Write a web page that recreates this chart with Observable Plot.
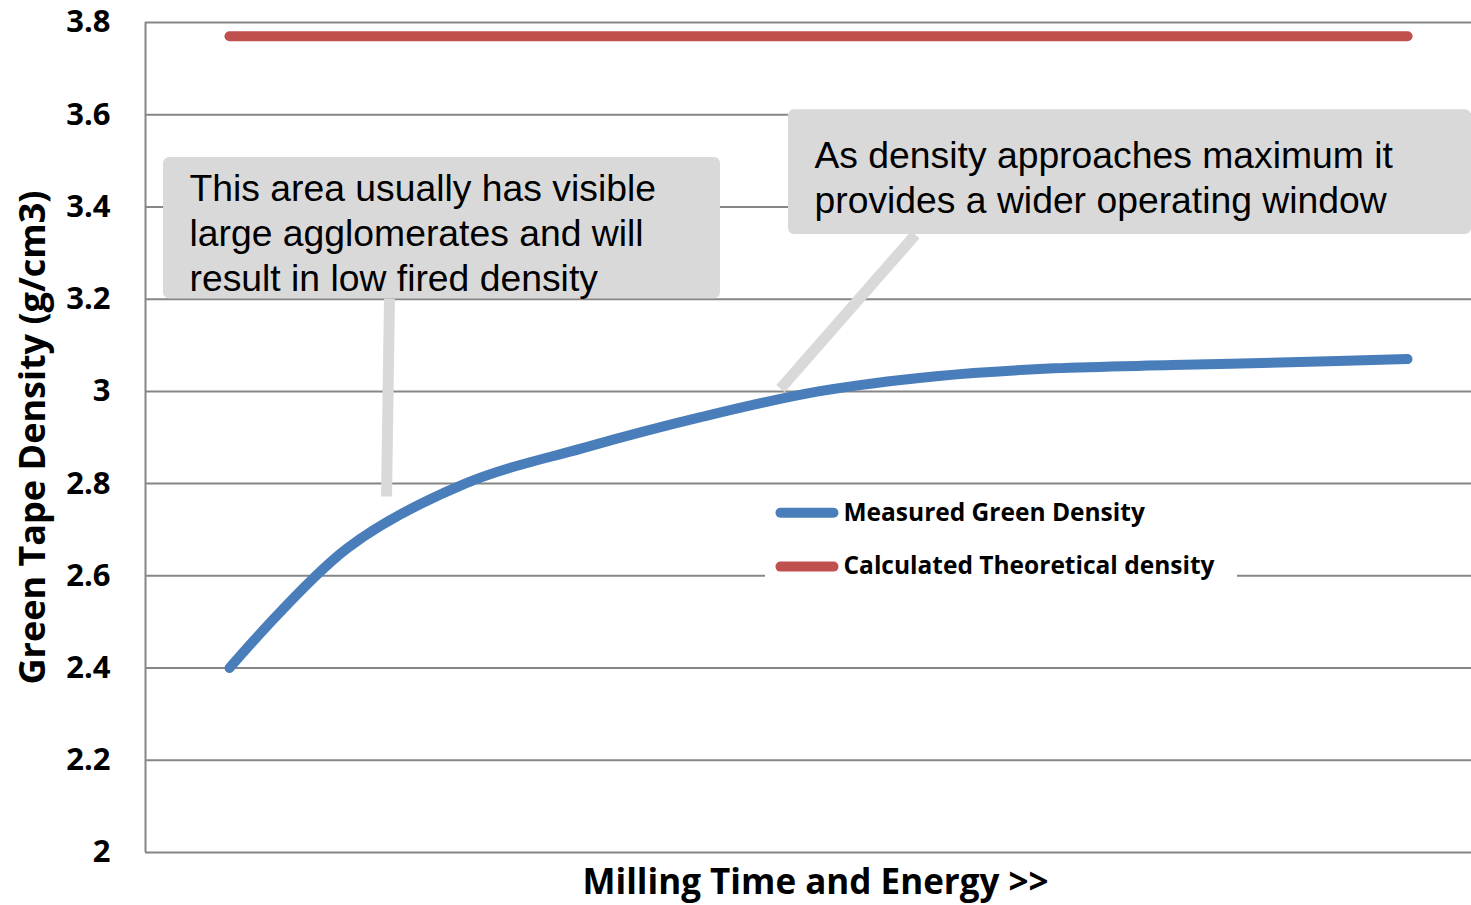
<!DOCTYPE html>
<html><head><meta charset="utf-8">
<script src="https://cdn.jsdelivr.net/npm/d3@7"></script>
<script src="https://cdn.jsdelivr.net/npm/@observablehq/plot@0.6"></script>
<style>
html,body{margin:0;padding:0;background:#fff;overflow:hidden;}
</style></head><body><div id="chart"></div>
<script>
// ---- data ----
const millingStep = [0, 1, 2, 3, 4, 5, 6, 7, 8, 9, 10];
const measuredDensity = [2.40, 2.66, 2.80, 2.877, 2.944, 3.0, 3.033, 3.05, 3.057, 3.063, 3.07];
const theoreticalDensity = [3.77, 3.77, 3.77, 3.77, 3.77, 3.77, 3.77, 3.77, 3.77, 3.77, 3.77];
const yTicks = [2, 2.2, 2.4, 2.6, 2.8, 3, 3.2, 3.4, 3.6, 3.8];
const seriesNames = ["Measured Green Density", "Calculated Theoretical density"];
const seriesColors = ["#4A7EBB", "#C0504D"];
const xTitle = "Milling Time and Energy >>";
const yTitle = "Green Tape Density (g/cm3)";
const xDomain = [-0.713, 10.543];
const yDomain = [2, 3.8];

// annotations (data coordinates)
const noteText = ["This area usually has visible\nlarge agglomerates and will\nresult in low fired density",
                  "As density approaches maximum it\nprovides a wider operating window"];
const noteBoxX1 = [-0.56, 4.745];
const noteBoxX2 = [4.168, 10.543];
const noteBoxY1 = [3.201, 3.34];
const noteBoxY2 = [3.507, 3.611];
const noteTextY = [3.483, 3.554];
const pointerX1 = [1.358, 5.823];
const pointerY1 = [3.201, 3.34];
const pointerX2 = [1.333, 4.677];
const pointerY2 = [2.772, 3.006];

// legend placement (data coordinates)
const legendBox = {x1: 4.55, x2: 8.557, y1: 2.568, y2: 2.785};
const legendSampleX = [4.677, 5.127];
const legendY = [2.737, 2.62];
const legendTextX = 5.212;

const rows = [];
millingStep.forEach((s, i) => {
  rows.push({step: s, density: measuredDensity[i], series: seriesNames[0]});
  rows.push({step: s, density: theoreticalDensity[i], series: seriesNames[1]});
});
const notes = noteText.map((t, i) => ({text: t, x1: noteBoxX1[i], x2: noteBoxX2[i], y1: noteBoxY1[i], y2: noteBoxY2[i],
  ty: noteTextY[i], px1: pointerX1[i], py1: pointerY1[i], px2: pointerX2[i], py2: pointerY2[i]}));
const legend = seriesNames.map((n, i) => ({name: n, color: seriesColors[i], y: legendY[i]}));

const calibri = "'Open Sans', Lato, sans-serif";
const arial = "'Liberation Sans', Arial, sans-serif";

const chart = Plot.plot({
  width: 1471, height: 905,
  marginLeft: 145, marginRight: 0, marginTop: 22, marginBottom: 53,
  style: {fontFamily: calibri, background: "#fff", overflow: "hidden"},
  x: {domain: xDomain, axis: null},
  y: {domain: yDomain, axis: null},
  color: {domain: seriesNames, range: seriesColors},
  marks: [
    Plot.gridY(yTicks, {stroke: "#868686", strokeOpacity: 1, strokeWidth: 2}),
    Plot.ruleX([xDomain[0]], {stroke: "#868686", strokeWidth: 2}),
    Plot.axisY(yTicks, {tickSize: 0, tickPadding: 35, fontSize: 31, fontWeight: "bold", fill: "#000",
      tickFormat: d => (Number.isInteger(d) ? String(d) : d.toFixed(1)), label: null}),
    // legend background
    Plot.rect([legendBox], {x1: "x1", x2: "x2", y1: "y1", y2: "y2", fill: "#fff"}),
    // pointers
    Plot.link(notes, {x1: "px1", y1: "py1", x2: "px2", y2: "py2", stroke: "#D9D9D9", strokeWidth: 11}),
    // boxes
    Plot.rect(notes, {x1: "x1", x2: "x2", y1: "y1", y2: "y2", fill: "#D9D9D9", rx: 6}),
    Plot.text(notes, {x: "x1", y: "ty", text: "text", dx: 26, textAnchor: "start", lineAnchor: "top",
      lineHeight: 1.206, fontSize: 37.3, fontFamily: arial, fill: "#000"}),
    // series
    Plot.line(rows, {x: "step", y: "density", stroke: "series", z: "series", strokeWidth: 10,
      curve: "catmull-rom", strokeLinecap: "round", strokeLinejoin: "round"}),
    // legend
    Plot.link(legend, {x1: legendSampleX[0], x2: legendSampleX[1], y1: "y", y2: "y", stroke: "color", strokeWidth: 10, strokeLinecap: "round"}),
    Plot.text(legend, {x: legendTextX, y: "y", text: "name", textAnchor: "start", lineAnchor: "middle", fontSize: 24.5, fontWeight: "bold", fill: "#000"}),
    // titles
    Plot.text([xTitle], {frameAnchor: "bottom", dy: 30, dx: 7, textAnchor: "middle", lineAnchor: "middle", fontSize: 35, fontWeight: "bold", fill: "#000"}),
    Plot.text([yTitle], {frameAnchor: "left", rotate: -90, dx: -112, textAnchor: "middle", lineAnchor: "middle", fontSize: 36, fontWeight: "bold", fill: "#000"})
  ]
});
document.getElementById("chart").appendChild(chart);
</script>
</body></html>
